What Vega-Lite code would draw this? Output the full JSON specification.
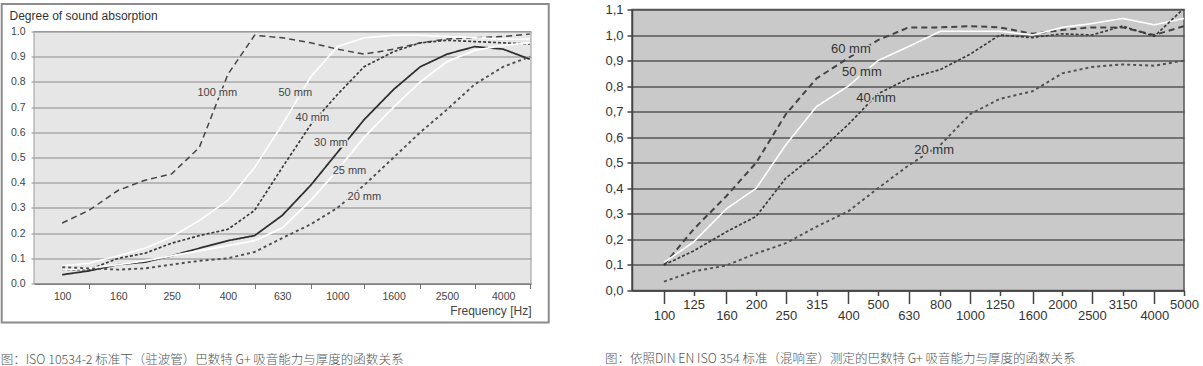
{
  "$schema": "https://vega.github.io/schema/vega-lite/v6.json",
  "background": "white",
  "padding": {"left": 0, "top": 2.5, "right": 0, "bottom": 0},
  "spacing": 54,
  "config": {"font": "Liberation Sans", "view": {"stroke": null}},
  "datasets": {
    "left": [
      {"s":"100 mm","f":100,"a":0.24},{"s":"100 mm","f":125,"a":0.29},{"s":"100 mm","f":160,"a":0.37},{"s":"100 mm","f":200,"a":0.41},{"s":"100 mm","f":250,"a":0.435},{"s":"100 mm","f":315,"a":0.54},{"s":"100 mm","f":400,"a":0.83},{"s":"100 mm","f":500,"a":0.985},{"s":"100 mm","f":630,"a":0.975},{"s":"100 mm","f":800,"a":0.955},{"s":"100 mm","f":1000,"a":0.93},{"s":"100 mm","f":1250,"a":0.91},{"s":"100 mm","f":1600,"a":0.93},{"s":"100 mm","f":2000,"a":0.955},{"s":"100 mm","f":2500,"a":0.97},{"s":"100 mm","f":3150,"a":0.975},{"s":"100 mm","f":4000,"a":0.98},{"s":"100 mm","f":5000,"a":0.99},
      {"s":"50 mm","f":100,"a":0.07},{"s":"50 mm","f":125,"a":0.08},{"s":"50 mm","f":160,"a":0.11},{"s":"50 mm","f":200,"a":0.14},{"s":"50 mm","f":250,"a":0.185},{"s":"50 mm","f":315,"a":0.25},{"s":"50 mm","f":400,"a":0.33},{"s":"50 mm","f":500,"a":0.46},{"s":"50 mm","f":630,"a":0.63},{"s":"50 mm","f":800,"a":0.82},{"s":"50 mm","f":1000,"a":0.94},{"s":"50 mm","f":1250,"a":0.975},{"s":"50 mm","f":1600,"a":0.985},{"s":"50 mm","f":2000,"a":0.985},{"s":"50 mm","f":2500,"a":0.98},{"s":"50 mm","f":3150,"a":0.975},{"s":"50 mm","f":4000,"a":0.97},{"s":"50 mm","f":5000,"a":0.97},
      {"s":"40 mm","f":100,"a":0.055},{"s":"40 mm","f":125,"a":0.055},{"s":"40 mm","f":160,"a":0.10},{"s":"40 mm","f":200,"a":0.12},{"s":"40 mm","f":250,"a":0.16},{"s":"40 mm","f":315,"a":0.19},{"s":"40 mm","f":400,"a":0.215},{"s":"40 mm","f":500,"a":0.29},{"s":"40 mm","f":630,"a":0.46},{"s":"40 mm","f":800,"a":0.63},{"s":"40 mm","f":1000,"a":0.75},{"s":"40 mm","f":1250,"a":0.86},{"s":"40 mm","f":1600,"a":0.92},{"s":"40 mm","f":2000,"a":0.955},{"s":"40 mm","f":2500,"a":0.965},{"s":"40 mm","f":3150,"a":0.96},{"s":"40 mm","f":4000,"a":0.955},{"s":"40 mm","f":5000,"a":0.95},
      {"s":"30 mm","f":100,"a":0.035},{"s":"30 mm","f":125,"a":0.05},{"s":"30 mm","f":160,"a":0.075},{"s":"30 mm","f":200,"a":0.085},{"s":"30 mm","f":250,"a":0.11},{"s":"30 mm","f":315,"a":0.14},{"s":"30 mm","f":400,"a":0.17},{"s":"30 mm","f":500,"a":0.19},{"s":"30 mm","f":630,"a":0.27},{"s":"30 mm","f":800,"a":0.39},{"s":"30 mm","f":1000,"a":0.52},{"s":"30 mm","f":1250,"a":0.65},{"s":"30 mm","f":1600,"a":0.77},{"s":"30 mm","f":2000,"a":0.86},{"s":"30 mm","f":2500,"a":0.91},{"s":"30 mm","f":3150,"a":0.94},{"s":"30 mm","f":4000,"a":0.93},{"s":"30 mm","f":5000,"a":0.89},
      {"s":"25 mm","f":100,"a":0.055},{"s":"25 mm","f":125,"a":0.06},{"s":"25 mm","f":160,"a":0.075},{"s":"25 mm","f":200,"a":0.09},{"s":"25 mm","f":250,"a":0.11},{"s":"25 mm","f":315,"a":0.13},{"s":"25 mm","f":400,"a":0.15},{"s":"25 mm","f":500,"a":0.17},{"s":"25 mm","f":630,"a":0.22},{"s":"25 mm","f":800,"a":0.33},{"s":"25 mm","f":1000,"a":0.45},{"s":"25 mm","f":1250,"a":0.58},{"s":"25 mm","f":1600,"a":0.70},{"s":"25 mm","f":2000,"a":0.80},{"s":"25 mm","f":2500,"a":0.88},{"s":"25 mm","f":3150,"a":0.925},{"s":"25 mm","f":4000,"a":0.945},{"s":"25 mm","f":5000,"a":0.955},
      {"s":"20 mm","f":100,"a":0.065},{"s":"20 mm","f":125,"a":0.06},{"s":"20 mm","f":160,"a":0.055},{"s":"20 mm","f":200,"a":0.06},{"s":"20 mm","f":250,"a":0.075},{"s":"20 mm","f":315,"a":0.09},{"s":"20 mm","f":400,"a":0.10},{"s":"20 mm","f":500,"a":0.125},{"s":"20 mm","f":630,"a":0.18},{"s":"20 mm","f":800,"a":0.235},{"s":"20 mm","f":1000,"a":0.30},{"s":"20 mm","f":1250,"a":0.39},{"s":"20 mm","f":1600,"a":0.50},{"s":"20 mm","f":2000,"a":0.60},{"s":"20 mm","f":2500,"a":0.69},{"s":"20 mm","f":3150,"a":0.79},{"s":"20 mm","f":4000,"a":0.86},{"s":"20 mm","f":5000,"a":0.90}
    ],
    "leftLabels": [
      {"t":"100 mm","f":366,"a":0.754},{"t":"50 mm","f":703,"a":0.754},{"t":"40 mm","f":811,"a":0.655},{"t":"30 mm","f":947,"a":0.556},{"t":"25 mm","f":1106,"a":0.448},{"t":"20 mm","f":1253,"a":0.345}
    ],
    "right": [
      {"s":"60 mm","f":100,"a":0.10},{"s":"60 mm","f":125,"a":0.24},{"s":"60 mm","f":160,"a":0.37},{"s":"60 mm","f":200,"a":0.50},{"s":"60 mm","f":250,"a":0.69},{"s":"60 mm","f":315,"a":0.83},{"s":"60 mm","f":400,"a":0.91},{"s":"60 mm","f":500,"a":0.98},{"s":"60 mm","f":630,"a":1.03},{"s":"60 mm","f":800,"a":1.03},{"s":"60 mm","f":1000,"a":1.035},{"s":"60 mm","f":1250,"a":1.03},{"s":"60 mm","f":1600,"a":1.005},{"s":"60 mm","f":2000,"a":1.02},{"s":"60 mm","f":2500,"a":1.03},{"s":"60 mm","f":3150,"a":1.03},{"s":"60 mm","f":4000,"a":1.0},{"s":"60 mm","f":5000,"a":1.035},
      {"s":"50 mm","f":100,"a":0.11},{"s":"50 mm","f":125,"a":0.19},{"s":"50 mm","f":160,"a":0.32},{"s":"50 mm","f":200,"a":0.40},{"s":"50 mm","f":250,"a":0.57},{"s":"50 mm","f":315,"a":0.72},{"s":"50 mm","f":400,"a":0.80},{"s":"50 mm","f":500,"a":0.90},{"s":"50 mm","f":630,"a":0.955},{"s":"50 mm","f":800,"a":1.015},{"s":"50 mm","f":1000,"a":1.015},{"s":"50 mm","f":1250,"a":1.015},{"s":"50 mm","f":1600,"a":1.0},{"s":"50 mm","f":2000,"a":1.03},{"s":"50 mm","f":2500,"a":1.045},{"s":"50 mm","f":3150,"a":1.065},{"s":"50 mm","f":4000,"a":1.04},{"s":"50 mm","f":5000,"a":1.065},
      {"s":"40 mm","f":100,"a":0.10},{"s":"40 mm","f":125,"a":0.155},{"s":"40 mm","f":160,"a":0.23},{"s":"40 mm","f":200,"a":0.29},{"s":"40 mm","f":250,"a":0.44},{"s":"40 mm","f":315,"a":0.535},{"s":"40 mm","f":400,"a":0.65},{"s":"40 mm","f":500,"a":0.77},{"s":"40 mm","f":630,"a":0.83},{"s":"40 mm","f":800,"a":0.865},{"s":"40 mm","f":1000,"a":0.925},{"s":"40 mm","f":1250,"a":1.0},{"s":"40 mm","f":1600,"a":0.99},{"s":"40 mm","f":2000,"a":1.005},{"s":"40 mm","f":2500,"a":1.0},{"s":"40 mm","f":3150,"a":1.035},{"s":"40 mm","f":4000,"a":0.995},{"s":"40 mm","f":5000,"a":1.105},
      {"s":"20 mm","f":100,"a":0.035},{"s":"20 mm","f":125,"a":0.075},{"s":"20 mm","f":160,"a":0.098},{"s":"20 mm","f":200,"a":0.145},{"s":"20 mm","f":250,"a":0.185},{"s":"20 mm","f":315,"a":0.25},{"s":"20 mm","f":400,"a":0.31},{"s":"20 mm","f":500,"a":0.40},{"s":"20 mm","f":630,"a":0.49},{"s":"20 mm","f":800,"a":0.57},{"s":"20 mm","f":1000,"a":0.69},{"s":"20 mm","f":1250,"a":0.75},{"s":"20 mm","f":1600,"a":0.78},{"s":"20 mm","f":2000,"a":0.85},{"s":"20 mm","f":2500,"a":0.875},{"s":"20 mm","f":3150,"a":0.885},{"s":"20 mm","f":4000,"a":0.88},{"s":"20 mm","f":5000,"a":0.90}
    ],
    "rightLabels": [
      {"t":"60 mm","f":408,"a":0.945},{"t":"50 mm","f":443,"a":0.855},{"t":"40 mm","f":493,"a":0.753},{"t":"20 mm","f":763,"a":0.549}
    ]
  },
  "hconcat": [
    {
      "width": 497,
      "height": 274,
      "view": {"fill": "#e6e6e6", "stroke": null},
      "title": {"text": "图：ISO 10534-2 标准下（驻波管）巴数特 G+ 吸音能力与厚度的函数关系", "orient": "bottom", "anchor": "start", "frame": "bounds", "offset": 30.5, "font": "Noto Sans CJK SC", "fontSize": 12.5, "fontWeight": 300, "color": "#555555"},
      "resolve": {"axis": {"x": "independent", "y": "independent"}},
      "layer": [
        {
          "data": {"values": [{}]},
          "mark": {"type": "rect", "fill": "white", "clip": false},
          "encoding": {
            "x": {"datum": 78, "type": "quantitative", "axis": null},
            "x2": {"datum": 5150},
            "y": {"datum": 1.002, "type": "quantitative", "axis": null},
            "y2": {"datum": 1.09}
          }
        },
        {
          "data": {"values": [{}]},
          "mark": {"type": "rect", "fill": "white", "fillOpacity": 0, "stroke": "#9a9a9a", "strokeWidth": 1, "clip": false},
          "encoding": {
            "x": {"datum": 79, "type": "quantitative", "axis": null},
            "x2": {"datum": 5050},
            "y": {"datum": 1.0, "type": "quantitative", "axis": null},
            "y2": {"datum": 0}
          }
        },
        {
          "data": {"values": [{}]},
          "mark": {"type": "rect", "fill": "white", "fillOpacity": 0, "stroke": "#8c8c8c", "strokeWidth": 2, "clip": false},
          "encoding": {
            "x": {"datum": 60.3, "type": "quantitative",
              "axis": {"orient": "top", "title": "Degree of sound absorption", "ticks": false, "labels": false, "domain": false, "grid": false,
                "titleX": -25, "titleY": 6, "titleAlign": "left", "titleBaseline": "middle", "titleAngle": 0,
                "titleFontSize": 12, "titleFontWeight": "normal", "titleColor": "#333333", "zindex": 1}},
            "x2": {"datum": 5857},
            "y": {"datum": 1.109, "type": "quantitative", "axis": null},
            "y2": {"datum": -0.155}
          }
        },
        {
          "data": {"name": "left"},
          "mark": {"type": "line", "clip": true},
          "encoding": {
            "x": {"field": "f", "type": "quantitative",
              "scale": {"type": "log", "domain": [79, 5050], "nice": false},
              "axis": {
                "values": [100,125,160,200,250,315,400,500,630,800,1000,1250,1600,2000,2500,3150,4000,5000],
                "labelExpr": "(datum.value == 100 || datum.value == 160 || datum.value == 250 || datum.value == 400 || datum.value == 630 || datum.value == 1000 || datum.value == 1600 || datum.value == 2500 || datum.value == 4000) ? format(datum.value, 'd') : ''",
                "tickOpacity": {"condition": {"test": "datum.value == 100 || datum.value == 160 || datum.value == 250 || datum.value == 400 || datum.value == 630 || datum.value == 1000 || datum.value == 1600 || datum.value == 2500 || datum.value == 4000", "value": 0}, "value": 1},
                "tickSize": 5, "tickColor": "#777777", "labelPadding": 3, "labelFontSize": 10.5, "labelColor": "#444444",
                "labelFlush": false, "labelOverlap": false, "labelBound": false,
                "domainColor": "#666666", "domainWidth": 1.5, "grid": false,
                "title": "Frequency [Hz]", "titleAnchor": "end", "titleFontSize": 12, "titleFontWeight": "normal", "titleColor": "#444444", "titlePadding": 3
              }
            },
            "y": {"field": "a", "type": "quantitative",
              "scale": {"domain": [0, 1.0873], "nice": false},
              "axis": {
                "values": [0,0.1,0.2,0.3,0.4,0.5,0.6,0.7,0.8,0.9,1.0],
                "format": ".1f", "grid": true, "gridColor": "#8a8a8a", "gridWidth": 1,
                "labelOverlap": false, "labelFlush": false,
                "tickSize": 3, "tickColor": "#8a8a8a", "labelPadding": 6, "labelFontSize": 10.5, "labelColor": "#444444",
                "domain": false, "title": null
              }
            },
            "color": {"field": "s", "type": "nominal", "legend": null,
              "scale": {"domain": ["100 mm","50 mm","40 mm","30 mm","25 mm","20 mm"], "range": ["#444444","#ffffff","#3a3a3a","#2e2e2e","#ffffff","#505050"]}},
            "strokeDash": {"field": "s", "type": "nominal", "legend": null,
              "scale": {"domain": ["100 mm","50 mm","40 mm","30 mm","25 mm","20 mm"], "range": [[6,4],[1,0],[3,2],[1,0],[1,0],[3,3]]}},
            "strokeWidth": {"field": "s", "type": "nominal", "legend": null,
              "scale": {"domain": ["100 mm","50 mm","40 mm","30 mm","25 mm","20 mm"], "range": [1.5,2,1.5,1.6,1.6,1.5]}}
          }
        },
        {
          "data": {"name": "leftLabels"},
          "mark": {"type": "text", "fontSize": 11, "fill": "#e6e6e6", "stroke": "#e6e6e6", "strokeWidth": 3, "align": "center", "baseline": "middle"},
          "encoding": {"x": {"field": "f", "type": "quantitative", "axis": null}, "y": {"field": "a", "type": "quantitative", "axis": null}, "text": {"field": "t"}}
        },
        {
          "data": {"name": "leftLabels"},
          "mark": {"type": "text", "fontSize": 11, "fill": "#444444", "align": "center", "baseline": "middle"},
          "encoding": {"x": {"field": "f", "type": "quantitative", "axis": null}, "y": {"field": "a", "type": "quantitative", "axis": null}, "text": {"field": "t"}}
        }
      ]
    },
    {
      "width": 552,
      "height": 281,
      "view": {"fill": "#c9c9c9", "stroke": "#555555", "strokeWidth": 1.5},
      "title": {"text": "图：依照DIN EN ISO 354 标准（混响室）测定的巴数特 G+ 吸音能力与厚度的函数关系", "orient": "bottom", "anchor": "start", "frame": "bounds", "offset": 31, "font": "Noto Sans CJK SC", "fontSize": 12.5, "fontWeight": 300, "color": "#555555"},
      "resolve": {"axis": {"x": "independent", "y": "independent"}},
      "layer": [
        {
          "data": {"name": "right"},
          "mark": {"type": "line", "clip": true},
          "encoding": {
            "x": {"field": "f", "type": "quantitative",
              "scale": {"type": "log", "domain": [78.6, 5000], "nice": false},
              "axis": {
                "values": [100,125,160,200,250,315,400,500,630,800,1000,1250,1600,2000,2500,3150,4000,5000],
                "labelExpr": "format(datum.value, 'd')",
                "tickSize": {"condition": {"test": "datum.value == 100 || datum.value == 160 || datum.value == 250 || datum.value == 400 || datum.value == 630 || datum.value == 1000 || datum.value == 1600 || datum.value == 2500 || datum.value == 4000", "value": 13}, "value": 5},
                "labelPadding": {"condition": {"test": "datum.value == 100 || datum.value == 160 || datum.value == 250 || datum.value == 400 || datum.value == 630 || datum.value == 1000 || datum.value == 1600 || datum.value == 2500 || datum.value == 4000", "value": 5.5}, "value": 2.5},
                "tickColor": "#444444", "tickWidth": 1.5, "labelFontSize": 13, "labelColor": "#333333",
                "labelFlush": false, "labelOverlap": false, "labelBound": false,
                "domainColor": "#444444", "domainWidth": 1.5, "grid": false, "title": null
              }
            },
            "y": {"field": "a", "type": "quantitative",
              "scale": {"domain": [0, 1.1], "nice": false},
              "axis": {
                "values": [0,0.1,0.2,0.3,0.4,0.5,0.6,0.7,0.8,0.9,1.0,1.1],
                "labelExpr": "replace(format(datum.value, '.1f'), '.', ',')",
                "labelOverlap": false, "labelFlush": false,
                "grid": true, "gridColor": "#555555", "gridWidth": 1.5,
                "tickSize": 5, "tickColor": "#444444", "tickWidth": 1.5, "labelPadding": 4, "labelFontSize": 13, "labelColor": "#333333",
                "domainColor": "#444444", "domainWidth": 1.5, "title": null
              }
            },
            "color": {"field": "s", "type": "nominal", "legend": null,
              "scale": {"domain": ["60 mm","50 mm","40 mm","20 mm"], "range": ["#0d0d0d","#ffffff","#0d0d0d","#1a1a1a"]}},
            "strokeDash": {"field": "s", "type": "nominal", "legend": null,
              "scale": {"domain": ["60 mm","50 mm","40 mm","20 mm"], "range": [[8,5],[1,0],[1,0],[6,5]]}},
            "strokeWidth": {"field": "s", "type": "nominal", "legend": null,
              "scale": {"domain": ["60 mm","50 mm","40 mm","20 mm"], "range": [3,3.5,3,2.5]}}
          }
        },
        {
          "data": {"name": "rightLabels"},
          "mark": {"type": "text", "fontSize": 13, "fill": "#c9c9c9", "stroke": "#c9c9c9", "strokeWidth": 3, "align": "center", "baseline": "middle"},
          "encoding": {"x": {"field": "f", "type": "quantitative", "axis": null}, "y": {"field": "a", "type": "quantitative", "axis": null}, "text": {"field": "t"}}
        },
        {
          "data": {"name": "rightLabels"},
          "mark": {"type": "text", "fontSize": 13, "fill": "#333333", "align": "center", "baseline": "middle"},
          "encoding": {"x": {"field": "f", "type": "quantitative", "axis": null}, "y": {"field": "a", "type": "quantitative", "axis": null}, "text": {"field": "t"}}
        }
      ]
    }
  ]
}
